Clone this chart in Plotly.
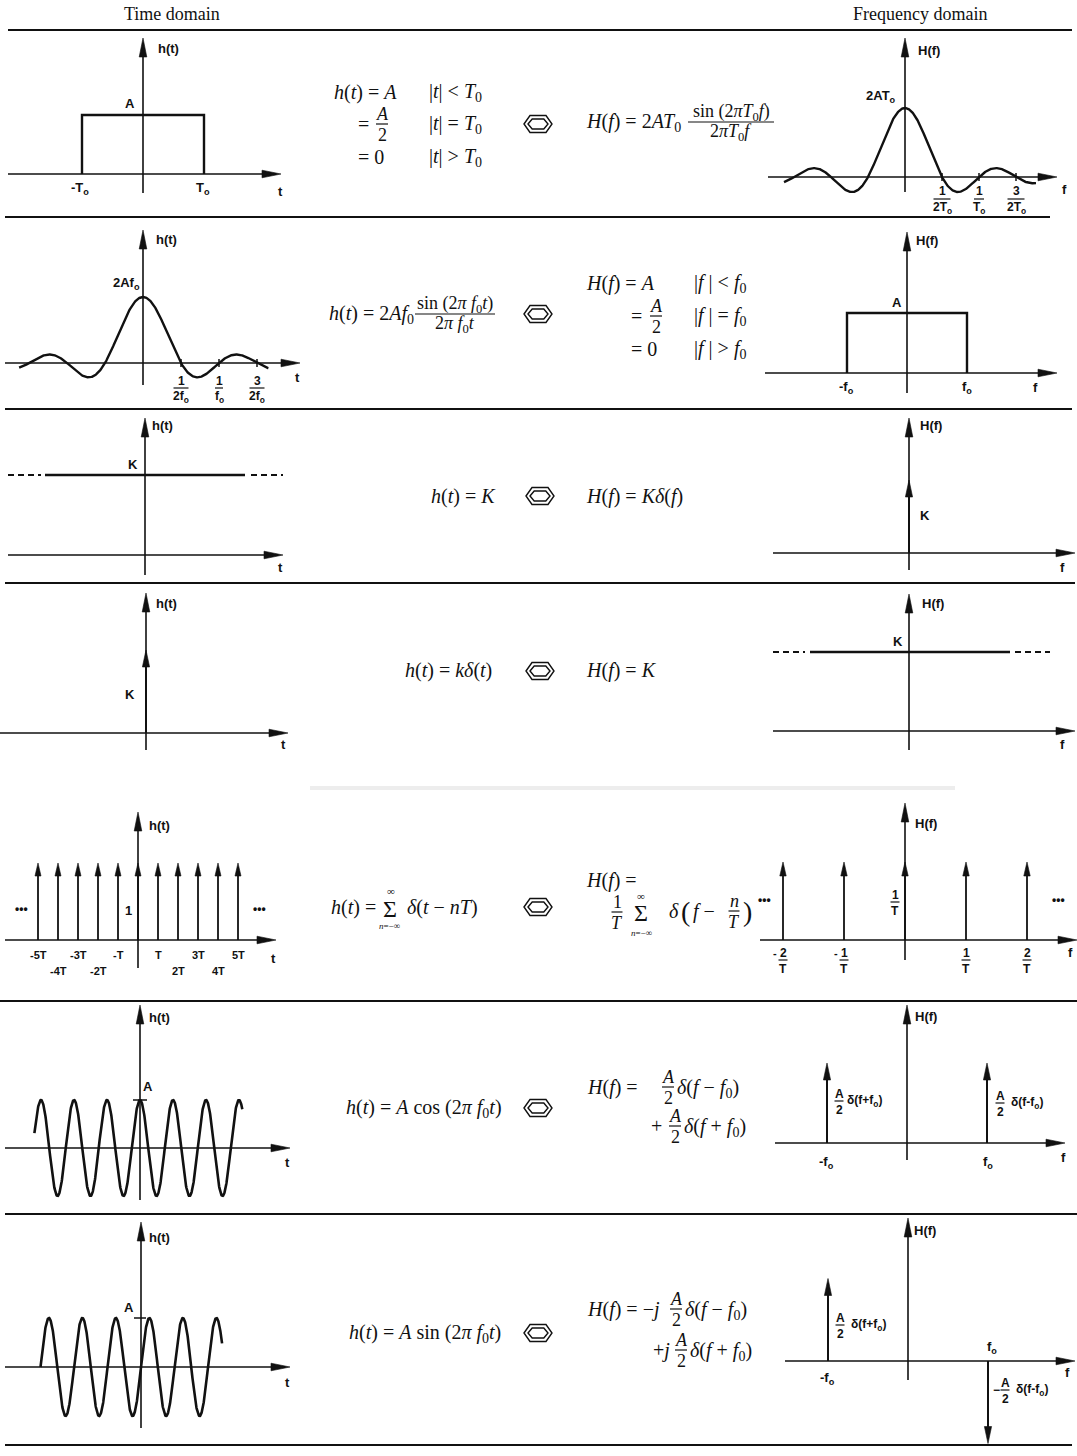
import numpy as np
import plotly.graph_objects as go

W, H = 1077, 1456
INK = "#111111"
SANS = "Liberation Sans, Arial, sans-serif"
SERIF = "Liberation Serif, Times New Roman, serif"
FS = 20      # formula text size
LAB = 13     # plot label size
TLAB = 12    # tick-fraction label size
AXW = 1.6    # axis stroke
CW = 2.4     # curve stroke

# ---------------- transform-pair values (normalised units) ----------------
A = 1.0      # amplitude
K = 1.0      # constant / impulse weight
T0 = 1.0     # half-width of the time pulse
f0 = 1.0     # band edge / sinusoid frequency
T = 1.0      # impulse-train spacing

pulse_t = [-T0, -T0, T0, T0]
pulse_h = [0.0, A, A, 0.0]
pulse_f = [-f0, -f0, f0, f0]
pulse_H = [0.0, A, A, 0.0]

sinc_f_span = [-1.635, 1.77]     # drawn extent of H(f)=2AT0 sinc(2T0 f)
sinc_t_span = [-1.63, 1.65]      # drawn extent of h(t)=2Af0 sinc(2f0 t)
sinc_f_zeros = [1 / (2 * T0), 1 / T0, 3 / (2 * T0)]
sinc_f_zero_labels = [("1", "2T<sub>o</sub>"), ("1", "T<sub>o</sub>"), ("3", "2T<sub>o</sub>")]
sinc_t_zeros = [1 / (2 * f0), 1 / f0, 3 / (2 * f0)]
sinc_t_zero_labels = [("1", "2f<sub>o</sub>"), ("1", "f<sub>o</sub>"), ("3", "2f<sub>o</sub>")]

const_t_solid = [-2.0, 2.0]
const_t_dashed = [[-2.74, -2.08], [2.12, 2.76]]
const_f_solid = [-1.98, 2.02]
const_f_dashed = [[-2.72, -2.08], [2.12, 2.82]]

comb_n = list(range(-5, 6))
comb_labels_upper = {-5: "-5T", -3: "-3T", -1: "-T", 1: "T", 3: "3T", 5: "5T"}
comb_labels_lower = {-4: "-4T", -2: "-2T", 2: "2T", 4: "4T"}
spec_n = [-2, -1, 0, 1, 2]
spec_labels = {-2: ("-", "2"), -1: ("-", "1"), 1: ("", "1"), 2: ("", "2")}

cos_span = [-3.2, 3.1]     # t in units of 1/f0
sin_span = [-3.0, 2.42]
cos_lines_f = [-f0, f0]
cos_lines_H = [A / 2, A / 2]
sin_lines_f = [-f0, f0]
sin_lines_H = [A / 2, -A / 2]

fig = go.Figure()
shapes, annotations, axes_layout = [], [], {}


class Panel:
    """A small sketch-style plot: origin (ox, oy) in px, sx/sy px per unit,
    hx = horizontal axis extent (px), vy = vertical axis extent (px, top, bottom)."""

    def __init__(self, idx, ox, oy, sx, sy, hx, vy, bottom=None):
        self.ox, self.oy, self.sx, self.sy = ox, oy, sx, sy
        self.hx, self.vy = hx, vy
        sfx = "" if idx == 1 else str(idx)
        self.xr, self.yr = "x" + sfx, "y" + sfx
        left = max(0, hx[0] - 10)
        right = min(W, hx[1] + 10)
        top = max(0, vy[0] - 10)
        bot = min(H, (bottom or vy[1]) + 10)
        axes_layout["xaxis" + sfx] = dict(domain=[left / W, right / W],
                                          range=[(left - ox) / sx, (right - ox) / sx],
                                          visible=False, fixedrange=True, anchor=self.yr)
        axes_layout["yaxis" + sfx] = dict(domain=[1 - bot / H, 1 - top / H],
                                          range=[(oy - bot) / sy, (oy - top) / sy],
                                          visible=False, fixedrange=True, anchor=self.xr)

    def X(self, x):
        return self.ox + x * self.sx

    def Y(self, y):
        return self.oy - y * self.sy

    @property
    def xlim(self):
        return (self.hx[0] - self.ox) / self.sx, (self.hx[1] - self.ox) / self.sx

    @property
    def ylim(self):
        return (self.oy - self.vy[1]) / self.sy, (self.oy - self.vy[0]) / self.sy


def txt(x, y, s, size=FS, family=SERIF, xanchor="left", yanchor="middle", weight="normal"):
    annotations.append(dict(x=x / W, y=1 - y / H, xref="paper", yref="paper", text=s,
                            showarrow=False, xanchor=xanchor, yanchor=yanchor, borderpad=0,
                            font=dict(family=family, size=size, color=INK, weight=weight)))


def hbar(x0, x1, y, width=1.2):
    shapes.append(dict(type="line", xref="paper", yref="paper", x0=x0 / W, x1=x1 / W,
                       y0=1 - y / H, y1=1 - y / H, line=dict(color=INK, width=width)))


def frac(xc, yc, num, den, bw, size=FS - 2, family=SERIF, gap=None, weight="normal"):
    g = gap if gap is not None else size * 0.55
    txt(xc, yc - g, num, size, family, "center", weight=weight)
    txt(xc, yc + g + 1, den, size, family, "center", weight=weight)
    hbar(xc - bw / 2, xc + bw / 2, yc)


def sfrac(xc, yc, num, den, bw, size=TLAB):
    frac(xc, yc, num, den, bw, size=size, family=SANS, gap=7.5, weight="bold")


def hexagon(cx, cy):
    for path in ("M-14,0 L-8,8.5 L8,8.5 L14,0 L8,-8.5 L-8,-8.5 Z",
                 "M-10,0 L-5.8,5 L5.8,5 L10,0 L5.8,-5 L-5.8,-5 Z"):
        shapes.append(dict(type="path", xref="paper", yref="paper", xsizemode="pixel",
                           ysizemode="pixel", xanchor=cx / W, yanchor=1 - cy / H, path=path,
                           line=dict(color=INK, width=1.4)))


def curve(p, x, y, width=CW, dash=None):
    fig.add_trace(go.Scatter(x=list(x), y=list(y), mode="lines",
                             line=dict(color=INK, width=width, dash=dash),
                             xaxis=p.xr, yaxis=p.yr, hoverinfo="skip", showlegend=False))


HEADS = {"up": "M0,0 L{w},-{L} L-{w},-{L} Z",
         "down": "M0,0 L{w},{L} L-{w},{L} Z",
         "right": "M0,0 L-{L},{w} L-{L},-{w} Z"}


def head(p, x, y, d, L=19, w=3.8):
    shapes.append(dict(type="path", xref=p.xr, yref=p.yr, xsizemode="pixel", ysizemode="pixel",
                       xanchor=x, yanchor=y, path=HEADS[d].format(L=L, w=w),
                       fillcolor=INK, line=dict(color=INK, width=0.6)))


def pxpath(p, x, y, path, width=1.5):
    shapes.append(dict(type="path", xref=p.xr, yref=p.yr, xsizemode="pixel", ysizemode="pixel",
                       xanchor=x, yanchor=y, path=path, line=dict(color=INK, width=width)))


def axes(p):
    x0, x1 = p.xlim
    y0, y1 = p.ylim
    curve(p, [x0, x1 - 6 / p.sx], [0, 0], AXW)
    curve(p, [0, 0], [y0, y1 - 6 / p.sy], AXW)
    head(p, x1, 0, "right")
    head(p, 0, y1, "up")


def impulse(p, x, h, L=17, w=3.6, width=2.0):
    s = 1 if h > 0 else -1
    curve(p, [x, x], [0, h - s * 6 / p.sy], width)
    head(p, x, h, "up" if h > 0 else "down", L, w)


def lab(p, x, y, s, dx=0, dy=0, size=LAB, xanchor="center"):
    txt(p.X(x) + dx, p.Y(y) + dy, s, size, SANS, xanchor, weight="bold")


def tip_labels(p, vlabel, vdx, vdy, hlabel, hdx, hdy):
    lab(p, 0, p.ylim[1], vlabel, vdx, vdy)
    lab(p, p.xlim[1], 0, hlabel, hdx, hdy)


# ---------------- panels ----------------
P1 = Panel(1, 143, 174, 61, 59, (8, 281), (38, 193))
P2 = Panel(2, 905, 177, 74, 34.5, (768, 1057), (38, 192))
P3 = Panel(3, 143, 363, 76, 33, (5, 300), (230, 385))
P4 = Panel(4, 907, 373, 60, 60, (765, 1057), (232, 393))
P5 = Panel(5, 145, 555, 50, 80, (8, 283), (418, 575))
P6 = Panel(6, 909, 553, 50, 73, (773, 1075), (418, 570))
P7 = Panel(7, 146, 733, 50, 83, (0, 288), (593, 750))
P8 = Panel(8, 909, 731, 50, 79, (773, 1075), (594, 750))
P9 = Panel(9, 138, 940, 20, 77, (5, 276), (812, 968))
P10 = Panel(10, 905, 940, 61, 78, (760, 1077), (803, 960))
P11 = Panel(11, 140, 1148, 33, 48, (5, 290), (1005, 1200))
P12 = Panel(12, 907, 1143, 80, 160, (775, 1065), (1005, 1160))
P13 = Panel(13, 141, 1367, 33.5, 49, (5, 290), (1222, 1428))
P14 = Panel(14, 908, 1361, 80, 165, (785, 1075), (1218, 1380), bottom=1448)

for p in (P1, P2, P3, P4, P5, P6, P7, P8, P9, P10, P11, P12, P13, P14):
    axes(p)

# Row 1: rectangular pulse <-> sinc
curve(P1, pulse_t, pulse_h)
tip_labels(P1, "h(t)", 25, 11, "t", -1, 18)
lab(P1, 0, A, "A", -13, -11)
lab(P1, -T0, 0, "-T<sub>o</sub>", -2, 15)
lab(P1, T0, 0, "T<sub>o</sub>", -1, 15)

fgrid = np.linspace(sinc_f_span[0], sinc_f_span[1], 600)
curve(P2, fgrid, 2 * A * T0 * np.sinc(2 * T0 * fgrid))
tip_labels(P2, "H(f)", 24, 13, "f", 7, 13)
lab(P2, 0, 2 * A * T0, "2AT<sub>o</sub>", -8, -11, xanchor="right")
for z, (nm, dn) in zip(sinc_f_zeros, sinc_f_zero_labels):
    pxpath(P2, z, 0, "M0,-4 L0,4")
    sfrac(P2.X(z), P2.Y(0) + 22, nm, dn, 17 if dn.startswith("2") else 10)

# Row 2: sinc <-> rectangular band
tgrid = np.linspace(sinc_t_span[0], sinc_t_span[1], 600)
curve(P3, tgrid, 2 * A * f0 * np.sinc(2 * f0 * tgrid))
tip_labels(P3, "h(t)", 23, 10, "t", -3, 15)
lab(P3, 0, 2 * A * f0, "2Af<sub>o</sub>", -2, -13, xanchor="right")
for z, (nm, dn) in zip(sinc_t_zeros, sinc_t_zero_labels):
    pxpath(P3, z, 0, "M0,-4 L0,4")
    sfrac(P3.X(z), P3.Y(0) + 25, nm, dn, 15 if dn.startswith("2") else 8)

curve(P4, pulse_f, pulse_H)
tip_labels(P4, "H(f)", 20, 9, "f", -22, 15)
lab(P4, 0, A, "A", -10, -11)
lab(P4, -f0, 0, "-f<sub>o</sub>", -1, 15)
lab(P4, f0, 0, "f<sub>o</sub>", 0, 15)

# Row 3: constant <-> impulse
curve(P5, const_t_solid, [K, K])
for seg in const_t_dashed:
    curve(P5, seg, [K, K], 2.0, "6px,4px")
tip_labels(P5, "h(t)", 17, 7, "t", -3, 13)
lab(P5, 0, K, "K", -12, -10)

impulse(P6, 0, K)
tip_labels(P6, "H(f)", 22, 7, "f", -13, 15)
lab(P6, 0, K, "K", 16, 35)

# Row 4: impulse <-> constant
impulse(P7, 0, K)
tip_labels(P7, "h(t)", 20, 10, "t", -5, 12)
lab(P7, 0, K, "K", -16, 44)

curve(P8, const_f_solid, [K, K])
for seg in const_f_dashed:
    curve(P8, seg, [K, K], 2.0, "6px,4px")
tip_labels(P8, "H(f)", 24, 9, "f", -13, 14)
lab(P8, 0, K, "K", -11, -11)

# Row 5: impulse train <-> impulse train
for n in comb_n:
    impulse(P9, n * T, 1.0, L=13, w=3, width=1.8)
for n, s in comb_labels_upper.items():
    lab(P9, n * T, 0, s, 0, 15, size=11)
for n, s in comb_labels_lower.items():
    lab(P9, n * T, 0, s, 0, 31, size=11)
tip_labels(P9, "h(t)", 22, 13, "t", -3, 18)
lab(P9, 0, 1.0, "1", -10, 47)
lab(P9, comb_n[0] * T, 0, "•••", -17, -31, size=12)
lab(P9, comb_n[-1] * T, 0, "•••", 21, -31, size=12)

for m in spec_n:
    impulse(P10, m / T, 1 / T, L=14, w=3.2, width=1.8)
for m, (sg, nm) in spec_labels.items():
    sfrac(P10.X(m / T), P10.Y(0) + 20, nm, "T", 9)
    if sg:
        lab(P10, m / T, 0, sg, -8, 13, size=11)
tip_labels(P10, "H(f)", 21, 20, "f", -7, 12)
sfrac(P10.X(0) - 10, P10.Y(1 / T) + 40, "1", "T", 9)
lab(P10, spec_n[0] / T, 0, "•••", -19, -40, size=12)
lab(P10, spec_n[-1] / T, 0, "•••", 31, -40, size=12)

# Row 6: cosine <-> pair of impulses
tc = np.linspace(cos_span[0], cos_span[1], 900)
curve(P11, tc, A * np.cos(2 * np.pi * f0 * tc), 2.6)
pxpath(P11, 0, A, "M-7,0 L7,0")
tip_labels(P11, "h(t)", 20, 13, "t", -3, 14)
lab(P11, 0, A, "A", 8, -14)

for fx, hv in zip(cos_lines_f, cos_lines_H):
    impulse(P12, fx, hv)
tip_labels(P12, "H(f)", 19, 11, "f", -2, 14)
lab(P12, -f0, 0, "-f<sub>o</sub>", -1, 19)
lab(P12, f0, 0, "f<sub>o</sub>", 1, 19)
sfrac(P12.X(-f0) + 12, P12.Y(A / 2) + 38, "A", "2", 9)
lab(P12, -f0, A / 2, "δ(f+f<sub>o</sub>)", 19, 38, size=TLAB, xanchor="left")
sfrac(P12.X(f0) + 13, P12.Y(A / 2) + 40, "A", "2", 9)
lab(P12, f0, A / 2, "δ(f-f<sub>o</sub>)", 23, 40, size=TLAB, xanchor="left")

# Row 7: sine <-> odd pair of impulses
ts = np.linspace(sin_span[0], sin_span[1], 900)
curve(P13, ts, A * np.sin(2 * np.pi * f0 * ts), 2.6)
pxpath(P13, 0, A, "M-7,0 L5,0")
tip_labels(P13, "h(t)", 19, 15, "t", -3, 15)
lab(P13, 0, A, "A", -12, -11)

for fx, hv in zip(sin_lines_f, sin_lines_H):
    impulse(P14, fx, hv)
tip_labels(P14, "H(f)", 17, 12, "f", -8, 11)
lab(P14, -f0, 0, "-f<sub>o</sub>", -1, 17)
lab(P14, f0, 0, "f<sub>o</sub>", 4, -14)
sfrac(P14.X(-f0) + 12, P14.Y(0) - 36, "A", "2", 9)
lab(P14, -f0, 0, "δ(f+f<sub>o</sub>)", 22, -36, size=TLAB, xanchor="left")
lab(P14, f0, 0, "−", 8, 29, size=TLAB)
sfrac(P14.X(f0) + 17, P14.Y(0) + 29, "A", "2", 9)
lab(P14, f0, 0, "δ(f-f<sub>o</sub>)", 27, 29, size=TLAB, xanchor="left")

# ---------------- formulas ----------------
txt(333, 92, "<i>h</i>(<i>t</i>) = <i>A</i>")
txt(428, 92, "|<i>t</i>| &lt; <i>T</i><sub>0</sub>")
txt(357, 124, "=")
frac(382, 124, "<i>A</i>", "2", 12)
txt(428, 124, "|<i>t</i>| = <i>T</i><sub>0</sub>")
txt(357, 157, "= 0")
txt(428, 157, "|<i>t</i>| &gt; <i>T</i><sub>0</sub>")
hexagon(538, 124)
txt(585, 122, "<i>H</i>(<i>f</i>) = 2<i>AT</i><sub>0</sub>")
frac(731, 122, "sin (2<i>πT</i><sub>0</sub><i>f</i>)", "2<i>πT</i><sub>0</sub><i>f</i>", 86)

txt(328, 314, "<i>h</i>(<i>t</i>) = 2<i>Af</i><sub>0</sub>")
frac(455, 314, "sin (2<i>π f</i><sub>0</sub><i>t</i>)", "2<i>π f</i><sub>0</sub><i>t</i>", 80)
hexagon(538, 314)
txt(585, 284, "<i>H</i>(<i>f</i>) = <i>A</i>")
txt(693, 284, "|<i>f</i> | &lt; <i>f</i><sub>0</sub>")
txt(630, 316, "=")
frac(656, 316, "<i>A</i>", "2", 12)
txt(693, 316, "|<i>f</i> | = <i>f</i><sub>0</sub>")
txt(630, 349, "= 0")
txt(693, 349, "|<i>f</i> | &gt; <i>f</i><sub>0</sub>")

txt(430, 496, "<i>h</i>(<i>t</i>) = <i>K</i>")
hexagon(540, 496)
txt(585, 496, "<i>H</i>(<i>f</i>) = <i>Kδ</i>(<i>f</i>)")

txt(404, 671, "<i>h</i>(<i>t</i>) = <i>kδ</i>(<i>t</i>)")
hexagon(540, 671)
txt(585, 671, "<i>H</i>(<i>f</i>) = <i>K</i>")

txt(330, 907, "<i>h</i>(<i>t</i>) =")
txt(390, 909, "Σ", 24, SERIF, "center")
txt(391, 891, "∞", 11, SERIF, "center")
txt(390, 926, "<i>n</i>=−∞", 9, SERIF, "center")
txt(406, 907, "<i>δ</i>(<i>t</i> − <i>nT</i>)")
hexagon(538, 907)
txt(585, 881, "<i>H</i>(<i>f</i>) =")
frac(617, 912, "1", "<i>T</i>", 11)
txt(641, 913, "Σ", 24, SERIF, "center")
txt(641, 896, "∞", 11, SERIF, "center")
txt(641, 933, "<i>n</i>=−∞", 9, SERIF, "center")
txt(668, 911, "<i>δ</i>")
txt(680, 911, "(", 28)
txt(692, 911, "<i>f</i> −")
frac(734, 911, "<i>n</i>", "<i>T</i>", 11)
txt(742, 911, ")", 28)

txt(345, 1108, "<i>h</i>(<i>t</i>) = <i>A</i> cos (2<i>π f</i><sub>0</sub><i>t</i>)")
hexagon(538, 1108)
txt(586, 1087, "<i>H</i>(<i>f</i>) =")
frac(668, 1087, "<i>A</i>", "2", 12)
txt(676, 1088, "<i>δ</i>(<i>f</i> − <i>f</i><sub>0</sub>)")
txt(650, 1126, "+")
frac(675, 1126, "<i>A</i>", "2", 12)
txt(683, 1127, "<i>δ</i>(<i>f</i> + <i>f</i><sub>0</sub>)")

txt(348, 1333, "<i>h</i>(<i>t</i>) = <i>A</i> sin (2<i>π f</i><sub>0</sub><i>t</i>)")
hexagon(538, 1333)
txt(586, 1309, "<i>H</i>(<i>f</i>) = −<i>j</i>")
frac(676, 1309, "<i>A</i>", "2", 12)
txt(684, 1310, "<i>δ</i>(<i>f</i> − <i>f</i><sub>0</sub>)")
txt(652, 1350, "+<i>j</i>")
frac(681, 1350, "<i>A</i>", "2", 12)
txt(689, 1351, "<i>δ</i>(<i>f</i> + <i>f</i><sub>0</sub>)")

# ---------------- headers and rules ----------------
txt(172, 14, "Time domain", 18, SERIF, "center")
txt(920, 14, "Frequency domain", 18, SERIF, "center")
for y, x0, x1 in [(30, 8, 1072), (217, 5, 1050), (409, 5, 1072), (583, 5, 1075),
                  (1001, 0, 1077), (1214, 5, 1077), (1445, 5, 1072)]:
    hbar(x0, x1, y, 2.0)
shapes.append(dict(type="line", xref="paper", yref="paper", x0=310 / W, x1=955 / W,
                   y0=1 - 788 / H, y1=1 - 788 / H, line=dict(color="rgba(0,0,0,0.07)", width=4)))

fig.update_layout(width=W, height=H, margin=dict(l=0, r=0, t=0, b=0),
                  paper_bgcolor="white", plot_bgcolor="rgba(0,0,0,0)", showlegend=False,
                  shapes=shapes, annotations=annotations, **axes_layout)
fig.write_html("out.html")
